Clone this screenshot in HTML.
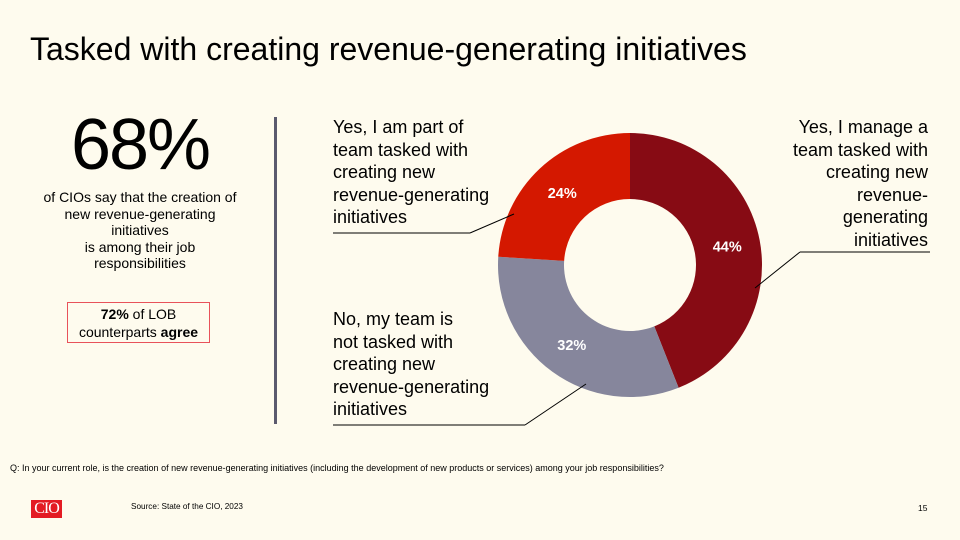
<!DOCTYPE html>
<html><head><meta charset="utf-8"><style>
body{margin:0;width:960px;height:540px;background:#fefbee;font-family:"Liberation Sans",sans-serif;position:relative;overflow:hidden;color:#000}
.a{position:absolute}
</style></head><body>
<div class="a" style="left:30px;top:31px;font-size:32px;">Tasked with creating revenue-generating initiatives</div>
<div class="a" style="left:40px;top:104px;width:200px;text-align:center;font-size:72px;letter-spacing:-2px">68%</div>
<div class="a" style="left:40px;top:189px;width:200px;text-align:center;font-size:14px;line-height:16.5px">of CIOs say that the creation of new revenue-generating initiatives<br>is among their job responsibilities</div>
<div class="a" style="left:67px;top:302px;width:143px;height:41px;border:1px solid #e8525a;text-align:center;font-size:14px;line-height:18px;padding-top:2px;box-sizing:border-box"><b>72%</b> of LOB<br>counterparts <b>agree</b></div>
<div class="a" style="left:274px;top:117px;width:3px;height:307px;background:#5b5a6e"></div>
<svg class="a" style="left:0;top:0" width="960" height="540">
<g id="slices"></g>
<line x1="333" y1="233" x2="470" y2="233" stroke="#000" stroke-width="1"/>
<line x1="470" y1="233" x2="514" y2="214" stroke="#000" stroke-width="1"/>
<line x1="930" y1="252" x2="800" y2="252" stroke="#000" stroke-width="1"/>
<line x1="800" y1="252" x2="755" y2="288" stroke="#000" stroke-width="1"/>
<line x1="333" y1="425" x2="525" y2="425" stroke="#000" stroke-width="1"/>
<line x1="525" y1="425" x2="586" y2="384" stroke="#000" stroke-width="1"/>
</svg>
<div class="a" style="left:333px;top:116px;font-size:18px;line-height:22.5px">Yes, I am part of<br>team tasked with<br>creating new<br>revenue-generating<br>initiatives</div>
<div class="a" style="right:32px;top:116px;font-size:18px;line-height:22.5px;text-align:right">Yes, I manage a<br>team tasked with<br>creating new<br>revenue-<br>generating<br>initiatives</div>
<div class="a" style="left:333px;top:308px;font-size:18px;line-height:22.5px">No, my team is<br>not tasked with<br>creating new<br>revenue-generating<br>initiatives</div>
<div class="a" style="left:10px;top:463px;font-size:9px">Q: In your current role, is the creation of new revenue-generating initiatives (including the development of new products or services) among your job responsibilities?</div>
<div class="a" style="left:31px;top:500px;width:31px;height:18px;background:#e31b23;color:#fff;font-family:'Liberation Serif',serif;font-size:16px;line-height:18px;text-align:center;letter-spacing:-1px">CIO</div>
<div class="a" style="left:131px;top:502px;font-size:8.2px">Source: State of the CIO, 2023</div>
<div class="a" style="left:918px;top:503px;font-size:8.5px">15</div>
<script>
const categories=["Yes, I manage a team","No, my team is not tasked","Yes, I am part of team"];
const values=[44,32,24];
const colors=["#870b14","#86869c","#d41800"];
const cx=630,cy=265,R=132,r=66;
const g=document.getElementById('slices');
const ns='http://www.w3.org/2000/svg';
const total=values.reduce((a,b)=>a+b,0);
let a0=-Math.PI/2;
values.forEach((v,i)=>{
  const a1=a0+v/total*2*Math.PI;
  const large=(a1-a0)>Math.PI?1:0;
  const p=(rad,a)=>[cx+rad*Math.cos(a),cy+rad*Math.sin(a)];
  const [x0,y0]=p(R,a0),[x1,y1]=p(R,a1),[x2,y2]=p(r,a1),[x3,y3]=p(r,a0);
  const path=document.createElementNS(ns,'path');
  path.setAttribute('d',`M${x0},${y0}A${R},${R} 0 ${large} 1 ${x1},${y1}L${x2},${y2}A${r},${r} 0 ${large} 0 ${x3},${y3}Z`);
  path.setAttribute('fill',colors[i]);
  
  
  g.appendChild(path);
  const am=(a0+a1)/2;const [lx,ly]=p(99,am);
  const t=document.createElementNS(ns,'text');
  t.setAttribute('x',lx);t.setAttribute('y',ly+5);
  t.setAttribute('text-anchor','middle');t.setAttribute('fill','#fff');
  t.setAttribute('font-weight','bold');t.setAttribute('font-size','14.5');
  t.setAttribute('font-family','Liberation Sans, sans-serif');
  t.textContent=v+'%';
  
  
  g.appendChild(t);
  a0=a1;
});
</script>
</body></html>
